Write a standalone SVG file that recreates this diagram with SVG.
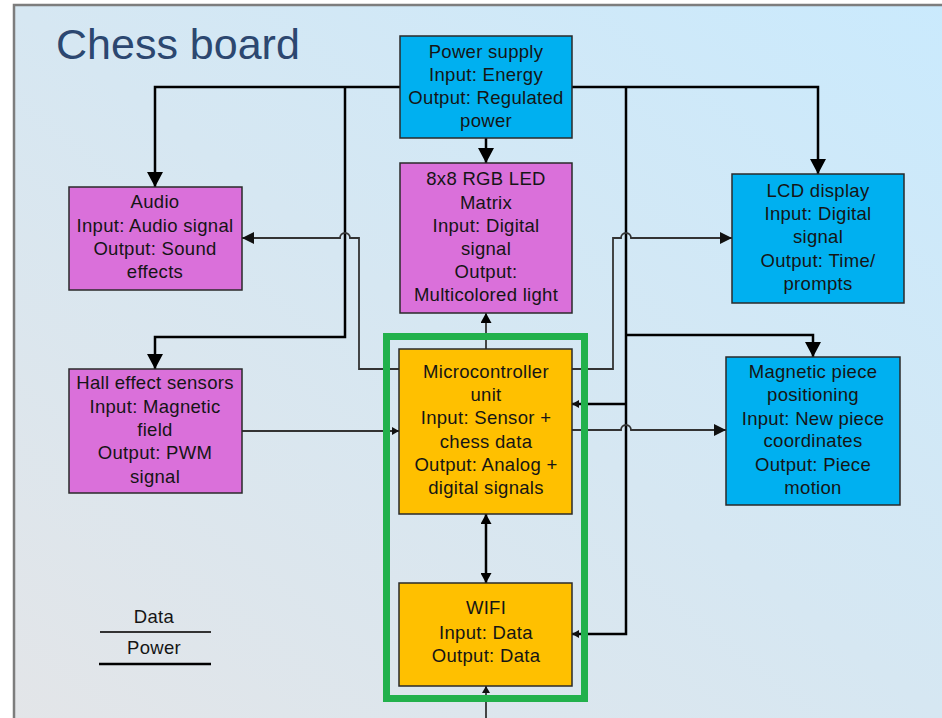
<svg xmlns="http://www.w3.org/2000/svg" width="942" height="718" viewBox="0 0 942 718">
  <defs>
    <linearGradient id="bg" x1="0" y1="1" x2="1" y2="0">
      <stop offset="0" stop-color="#e3e5e8"/>
      <stop offset="0.5" stop-color="#d6e7f2"/>
      <stop offset="1" stop-color="#caeafd"/>
    </linearGradient>
    <marker id="arrowPower" markerUnits="userSpaceOnUse" viewBox="0 0 15 16" refX="15" refY="8" markerWidth="15" markerHeight="16" orient="auto">
      <path d="M0,0 L15,8 L0,16 z" fill="#000"/>
    </marker>
    <marker id="arrowData" markerUnits="userSpaceOnUse" viewBox="0 0 12 12" refX="12" refY="6" markerWidth="12" markerHeight="12" orient="auto">
      <path d="M0,0 L12,6 L0,12 z" fill="#111"/>
    </marker>
    <marker id="arrowMid" markerUnits="userSpaceOnUse" viewBox="0 0 10 11" refX="10" refY="5.5" markerWidth="10" markerHeight="11" orient="auto">
      <path d="M0,0 L10,5.5 L0,11 z" fill="#000"/>
    </marker>
    <marker id="arrowMidStart" markerUnits="userSpaceOnUse" viewBox="0 0 10 11" refX="0" refY="5.5" markerWidth="10" markerHeight="11" orient="auto">
      <path d="M10,0 L0,5.5 L10,11 z" fill="#000"/>
    </marker>
    <marker id="arrowSmall" markerUnits="userSpaceOnUse" viewBox="0 0 7 8" refX="7" refY="4" markerWidth="7" markerHeight="8" orient="auto">
      <path d="M0,0 L7,4 L0,8 z" fill="#111"/>
    </marker>
  </defs>
  <style>
    .box { stroke: #2a2a2a; stroke-width: 1.5; }
    .blue { fill: #00b0f0; }
    .pink { fill: #da70da; }
    .amber { fill: #ffc000; }
    .label { font-family: "Liberation Sans", Arial, sans-serif; font-size: 18.5px; letter-spacing: 0.3px; fill: #151515; text-anchor: middle; }
    .power { fill: none; stroke: #000; stroke-width: 2.5; }
    .data { fill: none; stroke: #333; stroke-width: 1.8; }
    .title { font-family: "Liberation Sans", Arial, sans-serif; font-size: 43px; fill: #2c4770; }
  </style>

  <!-- page background and frame -->
  <rect x="0" y="0" width="942" height="718" fill="#ffffff"/>
  <rect x="14" y="5" width="940" height="720" fill="url(#bg)"/>
  <path d="M14,718 L14,5 L942,5" fill="none" stroke="#7d7d7d" stroke-width="2.5"/>

  <text class="title" x="56" y="59">Chess board</text>

  <!-- connectors -->
  <g id="connectors">
    <!-- power distribution -->
    <path class="power" d="M400,87 L155,87 L155,187" marker-end="url(#arrowPower)"/>
    <path class="power" d="M345,87 L345,337 L155,337 L155,369" marker-end="url(#arrowPower)"/>
    <path class="power" d="M572,87 L818,87 L818,174" marker-end="url(#arrowPower)"/>
    <path class="power" d="M626,87 L626,634 L572,634" marker-end="url(#arrowSmall)"/>
    <path class="power" d="M626,335 L813,335 L813,357" marker-end="url(#arrowPower)"/>
    <path class="power" d="M626,404 L572,404" marker-end="url(#arrowSmall)"/>
    <path class="power" d="M486,138 L486,163" marker-end="url(#arrowPower)"/>
    <!-- data links -->
    <path class="data" d="M399,369 L359,369 L359,238 L350,238 A5,5 0 0 0 340,238 L242,238" marker-end="url(#arrowData)"/>
    <path class="data" d="M572,369 L613,369 L613,238 L621,238 A5,5 0 0 1 631,238 L732,238" marker-end="url(#arrowData)"/>
    <path class="data" d="M242,431 L399,431" marker-end="url(#arrowSmall)"/>
    <path class="data" d="M572,430 L621,430 A5,5 0 0 1 631,430 L726,430" marker-end="url(#arrowData)"/>
    <path class="data" d="M486,349 L486,313" marker-end="url(#arrowMid)"/>
    <path class="power" d="M486,514 L486,583" marker-start="url(#arrowMidStart)" marker-end="url(#arrowMid)"/>
    <path class="data" d="M486,718 L486,686" marker-end="url(#arrowSmall)"/>
  </g>

  <!-- module grouping -->
  <rect id="core-group" x="386.5" y="336.5" width="198" height="362" fill="none" stroke="#22b14c" stroke-width="7"/>

  <g id="power-supply">
    <rect class="box blue" x="400" y="36" width="172" height="102"/>
    <text class="label" x="486" y="58">Power supply</text>
    <text class="label" x="486" y="81">Input: Energy</text>
    <text class="label" x="486" y="104">Output: Regulated</text>
    <text class="label" x="486" y="127">power</text>
  </g>

  <g id="led-matrix">
    <rect class="box pink" x="400" y="163" width="172" height="150"/>
    <text class="label" x="486" y="185">8x8 RGB LED</text>
    <text class="label" x="486" y="209">Matrix</text>
    <text class="label" x="486" y="232">Input: Digital</text>
    <text class="label" x="486" y="255">signal</text>
    <text class="label" x="486" y="278">Output:</text>
    <text class="label" x="486" y="301">Multicolored light</text>
  </g>

  <g id="audio">
    <rect class="box pink" x="69" y="187" width="173" height="103"/>
    <text class="label" x="155" y="208">Audio</text>
    <text class="label" x="155" y="232">Input: Audio signal</text>
    <text class="label" x="155" y="255">Output: Sound</text>
    <text class="label" x="155" y="278">effects</text>
  </g>

  <g id="hall-sensors">
    <rect class="box pink" x="69" y="369" width="173" height="124"/>
    <text class="label" x="155" y="389">Hall effect sensors</text>
    <text class="label" x="155" y="413">Input: Magnetic</text>
    <text class="label" x="155" y="436">field</text>
    <text class="label" x="155" y="459">Output: PWM</text>
    <text class="label" x="155" y="483">signal</text>
  </g>

  <g id="lcd-display">
    <rect class="box blue" x="732" y="174" width="172" height="129"/>
    <text class="label" x="818" y="197">LCD display</text>
    <text class="label" x="818" y="220">Input: Digital</text>
    <text class="label" x="818" y="243">signal</text>
    <text class="label" x="818" y="267">Output: Time/</text>
    <text class="label" x="818" y="290">prompts</text>
  </g>

  <g id="magnetic-positioning">
    <rect class="box blue" x="726" y="357" width="174" height="148"/>
    <text class="label" x="813" y="378">Magnetic piece</text>
    <text class="label" x="813" y="401">positioning</text>
    <text class="label" x="813" y="425">Input: New piece</text>
    <text class="label" x="813" y="447">coordinates</text>
    <text class="label" x="813" y="471">Output: Piece</text>
    <text class="label" x="813" y="494">motion</text>
  </g>

  <g id="microcontroller">
    <rect class="box amber" x="399" y="349" width="173" height="165"/>
    <text class="label" x="486" y="378">Microcontroller</text>
    <text class="label" x="486" y="401">unit</text>
    <text class="label" x="486" y="424">Input: Sensor +</text>
    <text class="label" x="486" y="448">chess data</text>
    <text class="label" x="486" y="471">Output: Analog +</text>
    <text class="label" x="486" y="494">digital signals</text>
  </g>

  <g id="wifi">
    <rect class="box amber" x="399" y="583" width="173" height="103"/>
    <text class="label" x="486" y="614">WIFI</text>
    <text class="label" x="486" y="639">Input: Data</text>
    <text class="label" x="486" y="662">Output: Data</text>
  </g>

  <g id="legend">
    <text class="label" x="154" y="623">Data</text>
    <line x1="100" y1="632" x2="211" y2="632" stroke="#333" stroke-width="1.8"/>
    <text class="label" x="154" y="654">Power</text>
    <line x1="99" y1="664" x2="211" y2="664" stroke="#000" stroke-width="2.5"/>
  </g>
</svg>
